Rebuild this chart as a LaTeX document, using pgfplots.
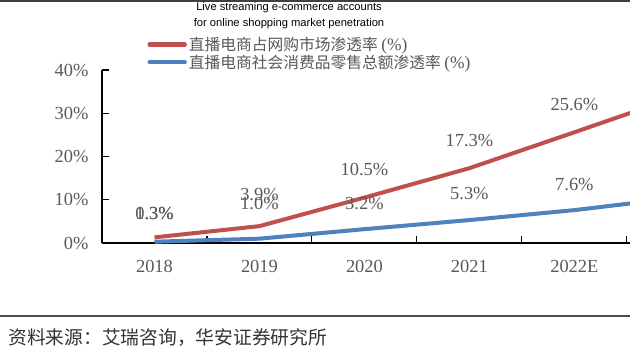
\documentclass[border=0pt]{standalone}
\usepackage{fontspec}
\setmainfont{Liberation Serif}
\newfontfamily\cjk{Noto Sans CJK SC}
\newfontfamily\arial{Liberation Sans}
\usepackage{pgfplots}
\pgfplotsset{compat=1.18}
\definecolor{myred}{RGB}{192,80,77}
\definecolor{myblue}{RGB}{79,129,189}
\definecolor{txt}{RGB}{89,89,89}
\begin{document}
\begin{tikzpicture}[x=1bp,y=1bp]
\useasboundingbox (0,0) rectangle (630,356);
\fill[white] (0,0) rectangle (630,356);
\draw[line width=2bp, black!75] (0,355) -- (630,355);
\draw[line width=1.2bp, black!70] (0,40) -- (630,40);
\node[anchor=west, font=\cjk\fontsize{18.8}{22}\selectfont, text=black!80] at (5,18) {资料来源：艾瑞咨询，华安证券研究所};
\node[align=center, font=\arial\fontsize{11.2}{15.5}\selectfont, inner sep=0pt] at (289,340.5) {Live streaming e-commerce accounts\\for online shopping market penetration};
\begin{axis}[
  at={(102bp,113bp)}, anchor=south west,
  scale only axis, width=528bp, height=173bp,
  xmin=-0.5, xmax=4.53, ymin=0, ymax=40,
  axis x line=bottom, axis y line=left,
  axis line style={-, line width=1.3bp, black},
  tick align=inside, major tick length=7bp,
  tick style={line width=1.1bp, black},
  xtick={-0.5,0.5,...,4.5}, xticklabels={},
  extra x ticks={0,1,2,3,4}, extra x tick labels={2018,2019,2020,2021,2022E},
  extra x tick style={major tick length=0pt},
  ytick={0,10,20,30,40}, yticklabel={\pgfmathprintnumber{\tick}\%},
  /pgf/number format/assume math mode=true,
  tick label style={font=\fontsize{18.5}{20}\selectfont, text=txt},
  yticklabel style={xshift=-10bp},
  xticklabel style={yshift=-14bp},
  legend style={draw=none, fill=none, at={(0.08,1.215)}, anchor=north west,
    font=\cjk\fontsize{15.8}{18}\selectfont, text=txt, row sep=-1bp},
  legend cell align=left,
  legend image code/.code={\draw[#1, line width=4.5bp, line cap=round] (0bp,0bp) -- (35bp,0bp);},
]
\addplot[myred, line width=4bp, line join=round] coordinates {(0,1.3) (1,3.9) (2,10.5) (3,17.3) (4,25.6) (5,34.0)};
\addlegendentry{直播电商占网购市场渗透率\ {\rmfamily\fontsize{17.5}{18}\selectfont(\%)}}
\addplot[myblue, line width=4bp, line join=round] coordinates {(0,0.3) (1,1.0) (2,3.2) (3,5.3) (4,7.6) (5,10.5)};
\addlegendentry{直播电商社会消费品零售总额渗透率\ {\rmfamily\fontsize{17.5}{18}\selectfont(\%)}}
\addplot[draw=none, forget plot, nodes near coords, point meta=explicit symbolic,
  nodes near coords style={anchor=center, font=\fontsize{18.5}{20}\selectfont, text=txt}]
  coordinates {(0,6.9)[1.3\%] (1,11.1)[3.9\%] (2,16.9)[10.5\%] (3,23.6)[17.3\%] (4,32.1)[25.6\%]};
\addplot[draw=none, forget plot, nodes near coords, point meta=explicit symbolic,
  nodes near coords style={anchor=center, font=\fontsize{18.5}{20}\selectfont, text=txt}]
  coordinates {(0,6.9)[0.3\%] (1,9.2)[1.0\%] (2,9.2)[3.2\%] (3,11.5)[5.3\%] (4,13.6)[7.6\%]};
\end{axis}
\end{tikzpicture}
\end{document}
